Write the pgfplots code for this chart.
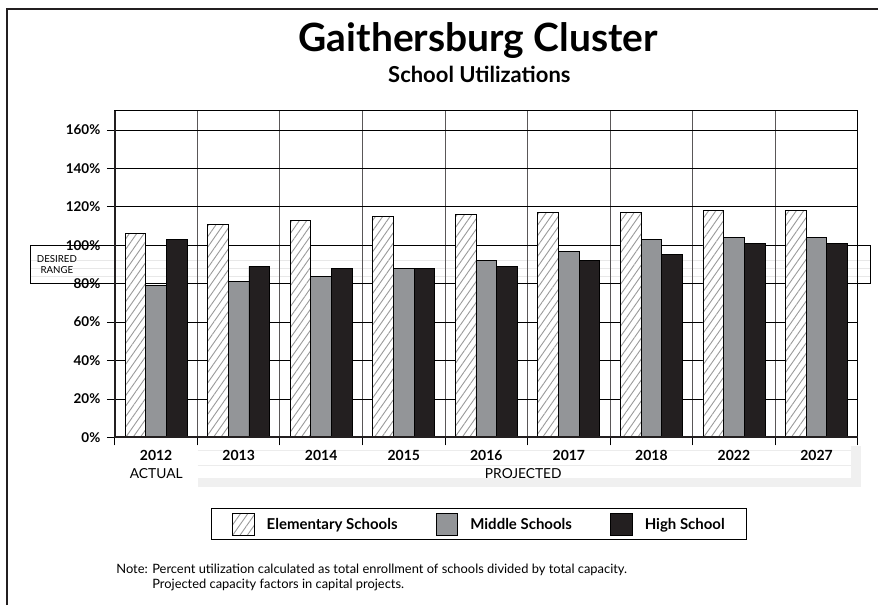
\documentclass[border=0pt]{standalone}
\usepackage{fontspec}
\setmainfont{Lato}
\usepackage{pgfplots}
\pgfplotsset{compat=1.18}
\usetikzlibrary{patterns.meta}

\definecolor{midgray}{HTML}{939598}
\definecolor{hsblack}{HTML}{231F20}
\definecolor{hatch}{HTML}{9A9A9A}

\begin{document}
\begin{tikzpicture}[x=1pt,y=1pt]
\path (0,0) rectangle (879,606);

% page frame
\draw[line width=2.5pt, hsblack] (7,0) -- (7,597) -- (879,597);

% titles
\node[anchor=base, font=\fontsize{39}{44}\selectfont\bfseries] at (479,554) {Gaithersburg Cluster};
\node[anchor=base, font=\fontsize{22}{26}\selectfont\bfseries] at (480,523) {School Utilizations};

% desired range band (80% to 100%)
\draw[fill=white, line width=0.8pt] (30,321.9) rectangle (872,360.4);
\foreach \yy in {345,337,329} \draw[gray!18, line width=1.2pt] (31,\yy) -- (871,\yy);
\node[font=\fontsize{9.7}{11}\selectfont, align=center] at (57,341) {DESIRED\\RANGE};

% projected shading under the year labels
\fill[gray!12] (198,118) rectangle (862,127);
\fill[gray!12] (852,118) rectangle (862,159);
\foreach \yy in {155,140} \draw[gray!15, line width=1.5pt] (198,\yy) -- (852,\yy);
\node[font=\fontsize{13.8}{16}\selectfont] at (156.5,132) {ACTUAL};
\node[font=\fontsize{13.8}{16}\selectfont] at (524,132) {PROJECTED};

\begin{axis}[
    at={(115pt,168pt)}, anchor=origin,
    scale only axis, width=744pt, height=327pt,
    xmin=0, xmax=9, ymin=0, ymax=170,
    ybar, bar width=20.7pt,
    xtick={0,...,9}, xticklabels={},
    extra x ticks={0.5,1.5,...,8.5},
    extra x tick labels={2012,2013,2014,2015,2016,2017,2018,2022,2027},
    extra x tick style={major tick length=0pt, grid=none,
        tick label style={font=\fontsize{14}{16}\selectfont\bfseries, yshift=-9pt}},
    ytick={0,20,...,160},
    yticklabels={0\%,20\%,40\%,60\%,80\%,100\%,120\%,140\%,160\%},
    yticklabel style={xshift=-3pt},
    xtick pos=bottom, ytick pos=left,
    tick align=outside, major tick length=8pt,
    tick style={line width=0.9pt, black},
    tick label style={font=\fontsize{13.5}{16}\selectfont\bfseries},
    xmajorgrids, ymajorgrids,
    y grid style={line width=0.8pt, black},
    x grid style={line width=0.9pt, hsblack!75},
    axis line style={line width=1pt, black},
    legend columns=3,
    legend style={at={(0.4906,-0.266)}, anchor=center, draw=black, line width=1pt,
        font=\fontsize{15}{18}\selectfont\bfseries,
        inner xsep=20pt, inner ysep=4pt,
        /tikz/every odd column/.append style={column sep=10pt},
        /tikz/every even column/.append style={column sep=36pt}},
    legend image code/.code={\draw[#1] (0pt,-11pt) rectangle (22pt,11pt);},
]
\addplot[bar shift=-20.7pt, fill=white, draw=black, line width=0.9pt,
    postaction={pattern={Lines[angle=55,distance=6pt,line width=0.9pt]}, pattern color=hatch}]
    coordinates {(0.5,106) (1.5,111) (2.5,113) (3.5,115) (4.5,116) (5.5,117) (6.5,117) (7.5,118) (8.5,118)};
\addlegendentry{Elementary Schools}
\addplot[bar shift=0pt, fill=midgray, draw=black, line width=0.9pt]
    coordinates {(0.5,79) (1.5,81) (2.5,84) (3.5,88) (4.5,92) (5.5,97) (6.5,103) (7.5,104) (8.5,104)};
\addlegendentry{Middle Schools}
\addplot[bar shift=20.7pt, fill=hsblack, draw=black, line width=0.9pt]
    coordinates {(0.5,103) (1.5,89) (2.5,88) (3.5,88) (4.5,89) (5.5,92) (6.5,95) (7.5,101) (8.5,101)};
\addlegendentry{High School}
\end{axis}

% heavier left and bottom axis lines
\draw[line width=2pt, hsblack] (115,495) -- (115,168) -- (859,168);

% note
\node[anchor=base west, font=\fontsize{12.9}{15}\selectfont] at (113,32) {Note:};
\node[anchor=base west, font=\fontsize{12.9}{15}\selectfont] at (149,32) {Percent utilization calculated as total enrollment of schools divided by total capacity.};
\node[anchor=base west, font=\fontsize{12.9}{15}\selectfont] at (149,17) {Projected capacity factors in capital projects.};
\end{tikzpicture}
\end{document}
